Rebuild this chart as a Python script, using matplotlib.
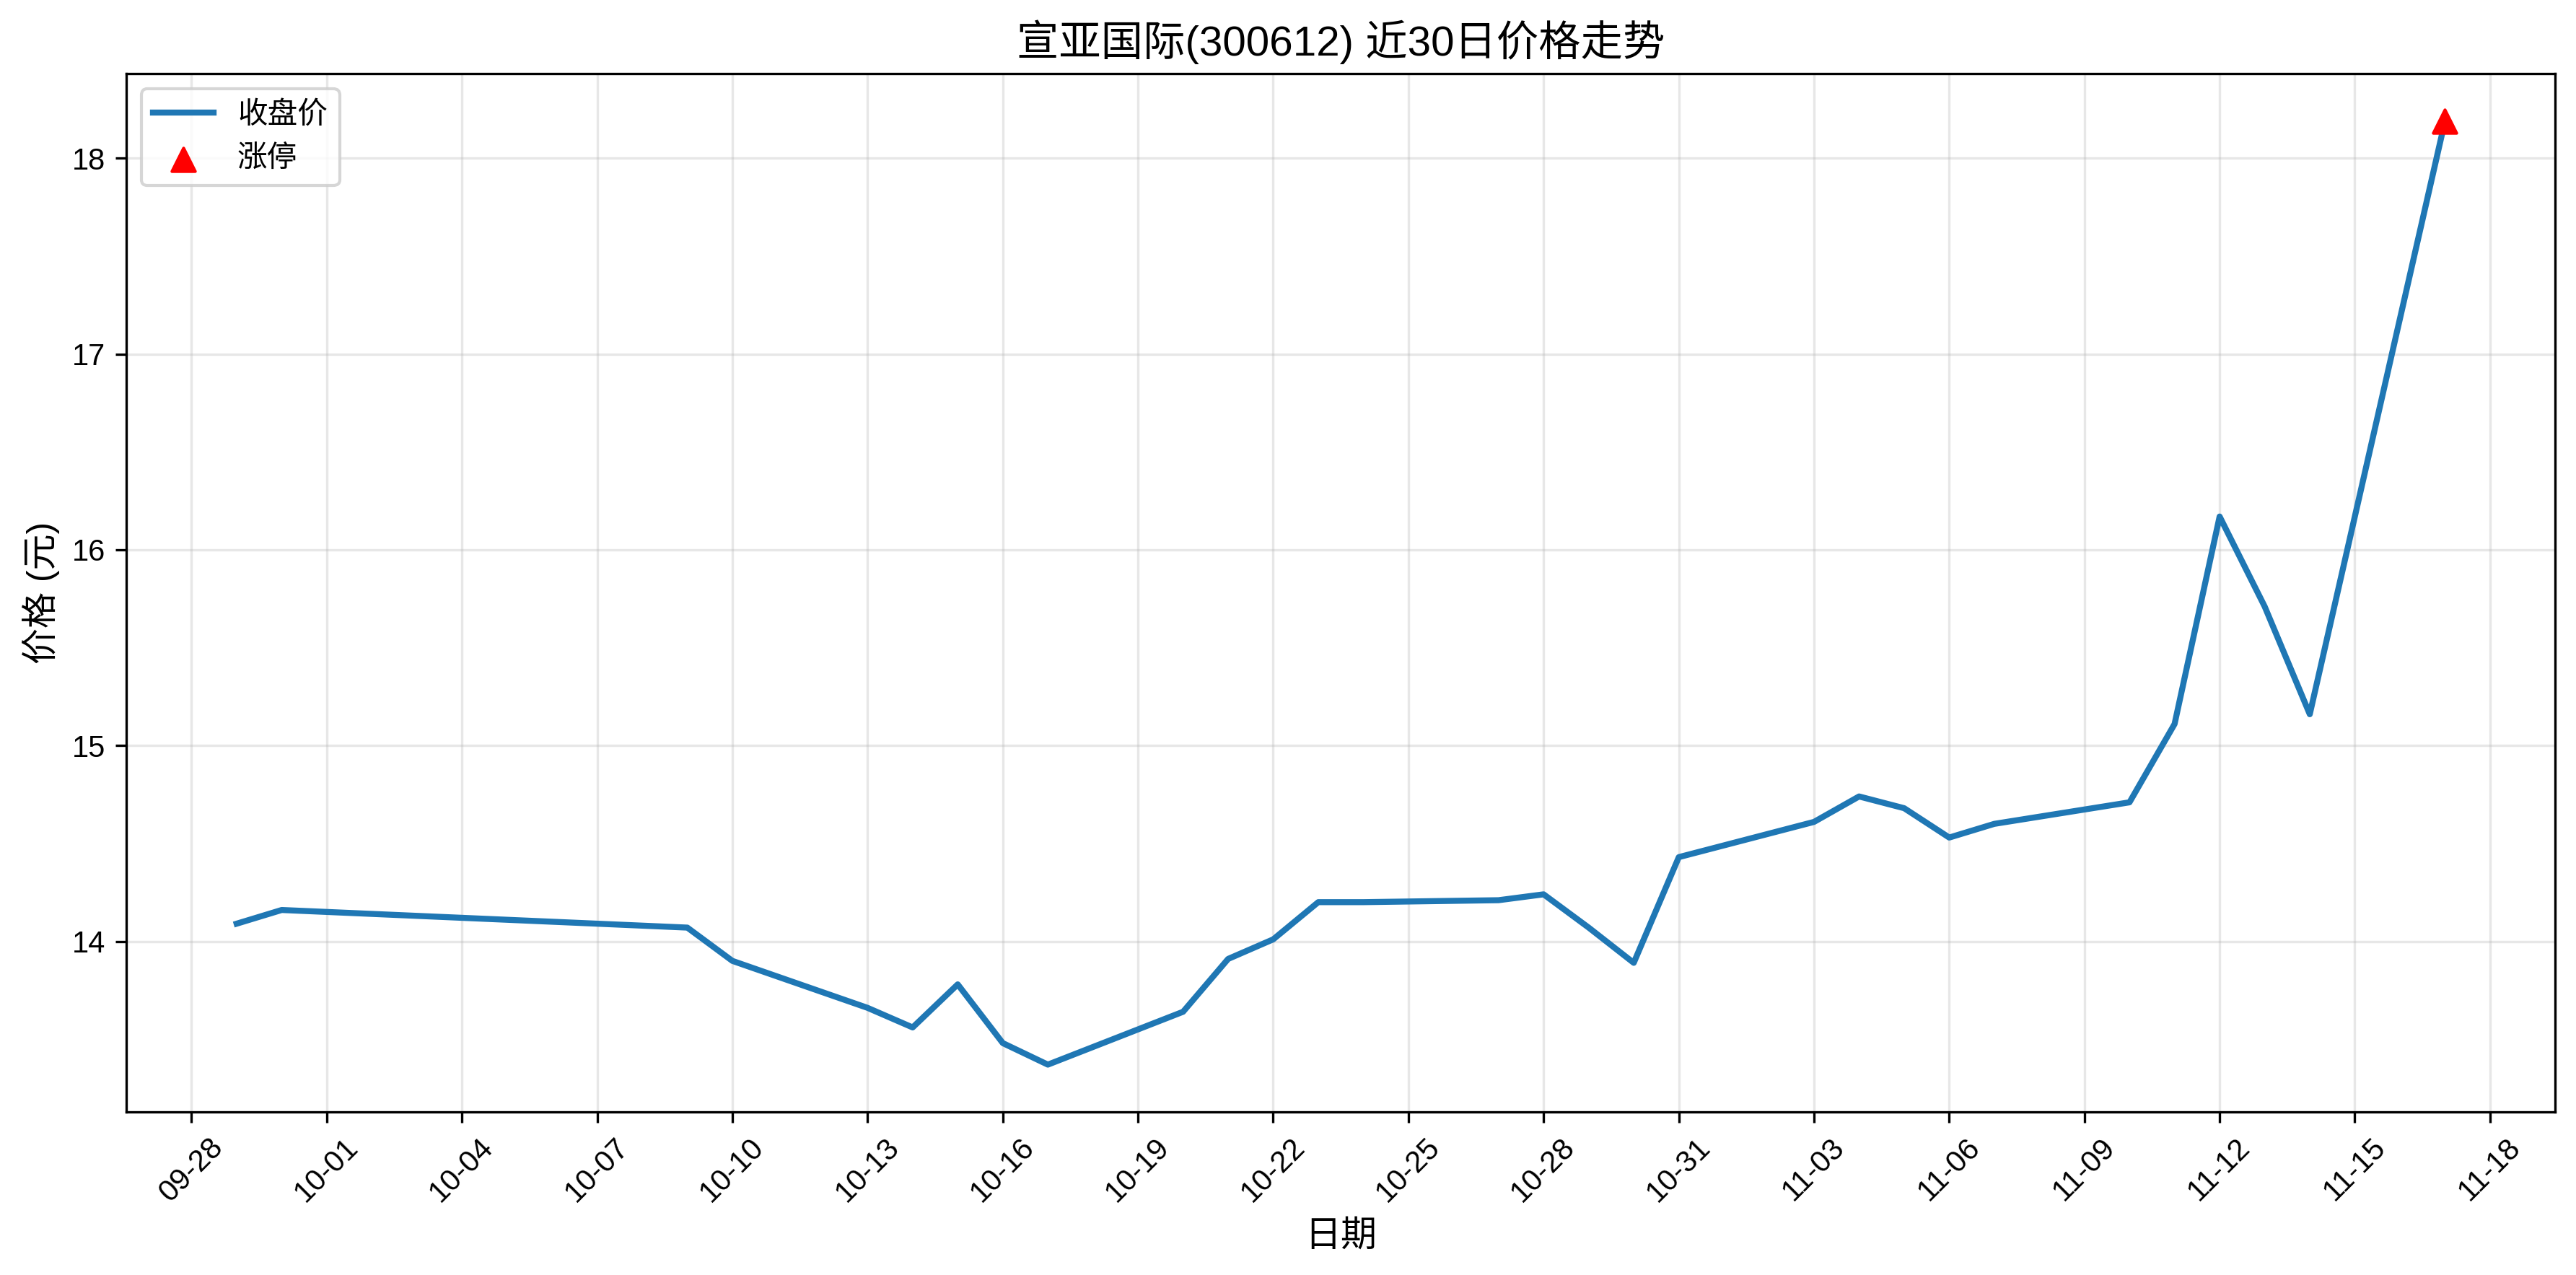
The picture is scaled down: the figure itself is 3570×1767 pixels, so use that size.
import matplotlib
matplotlib.use("Agg")
import matplotlib.pyplot as plt
import matplotlib.dates as mdates
import pandas as pd

plt.rcParams['font.family'] = ['Liberation Sans', 'Noto Sans CJK SC', 'DejaVu Sans']
plt.rcParams['axes.unicode_minus'] = False

# ── data ──
dates = ["2025-09-29", "2025-09-30", "2025-10-09", "2025-10-10", "2025-10-13",
         "2025-10-14", "2025-10-15", "2025-10-16", "2025-10-17", "2025-10-20",
         "2025-10-21", "2025-10-22", "2025-10-23", "2025-10-24", "2025-10-27",
         "2025-10-28", "2025-10-29", "2025-10-30", "2025-10-31", "2025-11-03",
         "2025-11-04", "2025-11-05", "2025-11-06", "2025-11-07", "2025-11-10",
         "2025-11-11", "2025-11-12", "2025-11-13", "2025-11-14", "2025-11-17"]
close = [14.09, 14.16, 14.07, 13.90, 13.66,
         13.56, 13.78, 13.48, 13.37, 13.64,
         13.91, 14.01, 14.20, 14.20, 14.21,
         14.24, 14.07, 13.89, 14.43, 14.61,
         14.74, 14.68, 14.53, 14.60, 14.71,
         15.11, 16.17, 15.71, 15.16, 18.19]
limit_up_dates = ["2025-11-17"]
limit_up_close = [18.19]

x = pd.to_datetime(dates)
xl = pd.to_datetime(limit_up_dates)

fig, ax = plt.subplots(figsize=(11.9, 5.89))
ax.plot(x, close, color="#1f77b4", linewidth=2, label="收盘价")
ax.scatter(xl, limit_up_close, color="red", marker="^", s=60, zorder=5, label="涨停")

ax.set_title("宣亚国际(300612) 近30日价格走势", fontsize=14)
ax.set_xlabel("日期", fontsize=12)
ax.set_ylabel("价格 (元)", fontsize=12)
ax.xaxis.set_major_locator(mdates.DayLocator(interval=3))
ax.xaxis.set_major_formatter(mdates.DateFormatter("%m-%d"))
plt.setp(ax.get_xticklabels(), rotation=45)
ax.grid(True, alpha=0.3)
ax.legend(loc="upper left")

fig.subplots_adjust(left=0.049, right=0.992, top=0.942, bottom=0.128)
fig.savefig("out.png", dpi=300)
